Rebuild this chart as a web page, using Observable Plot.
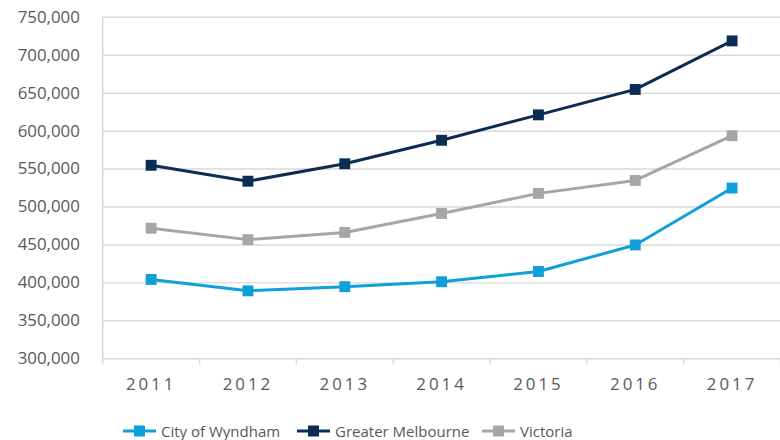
<!DOCTYPE html>
<html><head><meta charset="utf-8">
<script src="https://cdn.jsdelivr.net/npm/d3@7"></script>
<script src="https://cdn.jsdelivr.net/npm/@observablehq/plot@0.6"></script>
<style>
html,body{margin:0;padding:0;background:#fff;overflow:hidden;width:780px;height:440px}
#chart svg{display:block;overflow:visible}
.xax text{letter-spacing:3px}
#legend{position:absolute;top:419px;left:0;width:780px;height:24px;font-family:"Open Sans",sans-serif;font-size:15px;color:#595959}
.item{position:absolute;top:0;display:flex;align-items:center;height:24px;white-space:nowrap}
.item svg{margin-right:5px}
</style></head>
<body>
<div id="chart"></div>
<div id="legend"></div>
<script>
const years = [2011, 2012, 2013, 2014, 2015, 2016, 2017];
const seriesNames = ["City of Wyndham", "Greater Melbourne", "Victoria"];
const wyndham = [404500, 389500, 395000, 401500, 415000, 450000, 525000];
const melbourne = [555000, 534000, 557000, 588000, 621500, 655000, 719000];
const victoria = [472000, 457000, 466500, 491500, 518000, 535000, 594000];
const colors = ["#0f9fdb", "#0c2d53", "#a6a6a6"];
const yTicks = [300000, 350000, 400000, 450000, 500000, 550000, 600000, 650000, 700000, 750000];

const valuesBySeries = [wyndham, melbourne, victoria];
const data = [];
seriesNames.forEach((s, i) => years.forEach((y, j) => data.push({series: s, year: y, value: valuesBySeries[i][j]})));
const bandEdges = d3.range(years[0] - 0.5, years[years.length - 1] + 1, 1);
const fmt = d3.format(",");

const chart = Plot.plot({
  width: 786, height: 405,
  marginLeft: 103, marginRight: 0, marginTop: 17, marginBottom: 44,
  style: {fontFamily: "'Open Sans', sans-serif", fontSize: "17px", color: "#595959", background: "#fff"},
  x: {domain: [years[0] - 0.5, years[years.length - 1] + 0.5]},
  y: {domain: [300000, 750000]},
  color: {domain: seriesNames, range: colors},
  marks: [
    Plot.gridY(yTicks, {stroke: "#d9d9d9", strokeOpacity: 1, strokeWidth: 1.5}),
    Plot.ruleX([years[0] - 0.5], {stroke: "#d9d9d9", strokeWidth: 1.5}),
    Plot.axisY({ticks: yTicks, tickFormat: fmt, tickSize: 0, tickPadding: 23, label: null, fill: "#595959"}),
    Plot.axisX({ticks: years, tickFormat: d => String(d), tickSize: 0, tickPadding: 19, label: null, fill: "#595959", className: "xax"}),
    Plot.axisX({ticks: bandEdges, tickFormat: () => "", tickSize: 6, stroke: "#d9d9d9", strokeWidth: 1.5, label: null}),
    Plot.line(data, {x: "year", y: "value", stroke: "series", z: "series", strokeWidth: 3}),
    Plot.dot(data, {x: "year", y: "value", fill: "series", symbol: "square", r: 6.2, stroke: null})
  ]
});
document.getElementById("chart").append(chart);

const legendX = [123, 297, 482];
const legend = document.getElementById("legend");
seriesNames.forEach((s, i) => {
  const d = document.createElement("div");
  d.className = "item";
  d.style.left = legendX[i] + "px";
  d.innerHTML = `<svg width="33" height="14"><line x1="0" y1="7" x2="33" y2="7" stroke="${colors[i]}" stroke-width="3"/><rect x="11" y="1.5" width="11" height="11" fill="${colors[i]}"/></svg><span>${s}</span>`;
  legend.append(d);
});
</script>
</body></html>
